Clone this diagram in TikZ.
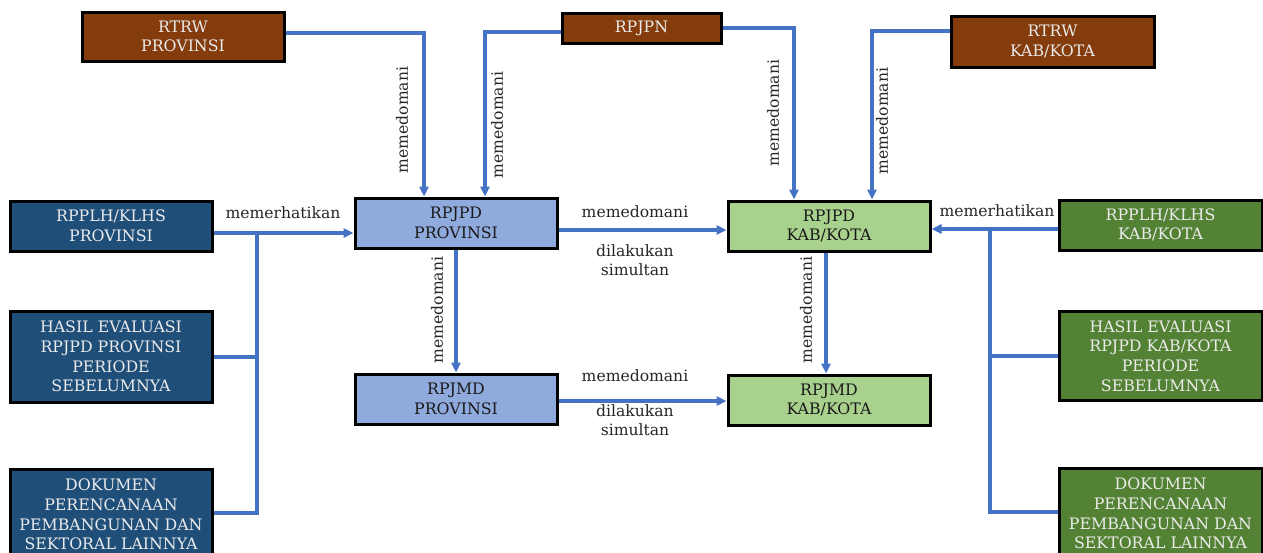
\documentclass[tikz,border=0pt]{standalone}
\usepackage{fontspec}
\setmainfont{DejaVu Serif}
\usetikzlibrary{arrows.meta}
\definecolor{brownbox}{HTML}{843C0C}
\definecolor{darkblue}{HTML}{1F4E79}
\definecolor{lightblue}{HTML}{8FAADC}
\definecolor{lightgreen}{HTML}{A9D18E}
\definecolor{darkgreen}{HTML}{548235}
\definecolor{conn}{HTML}{4472C4}
\tikzset{
  box/.style={draw=black, line width=3pt, align=center, inner sep=0pt,
    font=\fontsize{15.8}{19.6}\selectfont},
  brownb/.style={box, fill=brownbox, text=white!92!black},
  dblue/.style={box, fill=darkblue, text=white!92!black},
  lblue/.style={box, fill=lightblue, text=black!90},
  lgreen/.style={box, fill=lightgreen, text=black!90},
  dgreen/.style={box, fill=darkgreen, text=white!92!black},
  link/.style={draw=conn, line width=3.2pt},
  arr/.style={link, -{Triangle[length=10pt,width=9pt]}},
  lbl/.style={font=\fontsize{15.6}{19.6}\selectfont, text=black!85, align=center, inner sep=0pt},
  vlbl/.style={lbl, rotate=90},
}
\begin{document}
\begin{tikzpicture}[x=1pt,y=-1pt]
\useasboundingbox (0,0) rectangle (1263,552);
\clip (0,0) rectangle (1263,552);
% boxes
\node[brownb, minimum width=202, minimum height=49] (rtrwp) at (183,36.5) {RTRW\\PROVINSI};
\node[brownb, minimum width=159, minimum height=30] (rpjpn) at (641.5,28) {RPJPN};
\node[brownb, minimum width=203, minimum height=51] (rtrwk) at (1052.5,41.5) {RTRW\\KAB/KOTA};
\node[dblue, minimum width=202, minimum height=50] (rpplhp) at (111,226) {RPPLH/KLHS\\PROVINSI};
\node[dblue, minimum width=202, minimum height=91] (hasilp) at (111,356.5) {HASIL EVALUASI\\RPJPD PROVINSI\\PERIODE\\SEBELUMNYA};
\node[dblue, minimum width=202, minimum height=91] (dokp) at (111,514.5) {DOKUMEN\\PERENCANAAN\\PEMBANGUNAN DAN\\SEKTORAL LAINNYA};
\node[lblue, minimum width=202, minimum height=50] (rpjpdp) at (456,223) {RPJPD\\PROVINSI};
\node[lblue, minimum width=202, minimum height=50] (rpjmdp) at (456,399) {RPJMD\\PROVINSI};
\node[lgreen, minimum width=202, minimum height=50] (rpjpdk) at (829,226) {RPJPD\\KAB/KOTA};
\node[lgreen, minimum width=202, minimum height=50] (rpjmdk) at (829,400) {RPJMD\\KAB/KOTA};
\node[dgreen, minimum width=203, minimum height=50] (rpplhk) at (1160.5,225) {RPPLH/KLHS\\KAB/KOTA};
\node[dgreen, minimum width=203, minimum height=89] (hasilk) at (1160.5,356) {HASIL EVALUASI\\RPJPD KAB/KOTA\\PERIODE\\SEBELUMNYA};
\node[dgreen, minimum width=203, minimum height=91] (dokk) at (1160.5,513.5) {DOKUMEN\\PERENCANAAN\\PEMBANGUNAN DAN\\SEKTORAL LAINNYA};
% top connectors
\draw[arr] (rtrwp.east |- 0,33) -| (rpjpdp.north -| 424,0);
\draw[arr] (rpjpn.west |- 0,32) -| (rpjpdp.north -| 485,0);
\draw[arr] (rpjpn.east) -| (rpjpdk.north -| 794,0);
\draw[arr] (rtrwk.west |- 0,31) -| (rpjpdk.north -| 872,0);
\node[vlbl] (l1) at (402,120) {memedomani};
\node[vlbl] (l2) at (497,125) {memedomani};
\node[vlbl] (l3) at (773,113) {memedomani};
\node[vlbl] (l4) at (882,121) {memedomani};
% left bus
\coordinate (bl1) at (257,233);
\coordinate (bl2) at (257,357);
\coordinate (bl3) at (257,513);
\draw[arr] (rpplhp.east |- bl1) -- (rpjpdp.west |- bl1);
\draw[link, line join=miter] (bl1) -- (bl3) -- (dokp.east |- bl3);
\draw[link] (hasilp.east |- bl2) -- (bl2);
\node[lbl] (l5) at (283,213) {memerhatikan};
% right bus
\coordinate (br1) at (990,229);
\coordinate (br2) at (990,356);
\coordinate (br3) at (990,512);
\draw[arr] (rpplhk.west |- br1) -- (rpjpdk.east |- br1);
\draw[link, line join=miter] (br1) -- (br3) -- (dokk.west |- br3);
\draw[link] (hasilk.west |- br2) -- (br2);
\node[lbl] (l6) at (997,211) {memerhatikan};
% middle
\draw[arr] (rpjpdp.east |- 0,230) -- (rpjpdk.west |- 0,230);
\node[lbl] (l7) at (635,212) {memedomani};
\node[lbl] (l8) at (635,260) {dilakukan\\simultan};
\draw[arr] (rpjmdp.east |- 0,401) -- (rpjmdk.west |- 0,401);
\node[lbl] (l9) at (635,376) {memedomani};
\node[lbl] (l10) at (635,420) {dilakukan\\simultan};
\draw[arr] (rpjpdp.south) -- (rpjmdp.north);
\draw[arr] (rpjpdk.south -| 826,0) -- (rpjmdk.north -| 826,0);
\node[vlbl] (l11) at (437,310) {memedomani};
\node[vlbl] (l12) at (806,310) {memedomani};
\end{tikzpicture}
\end{document}
